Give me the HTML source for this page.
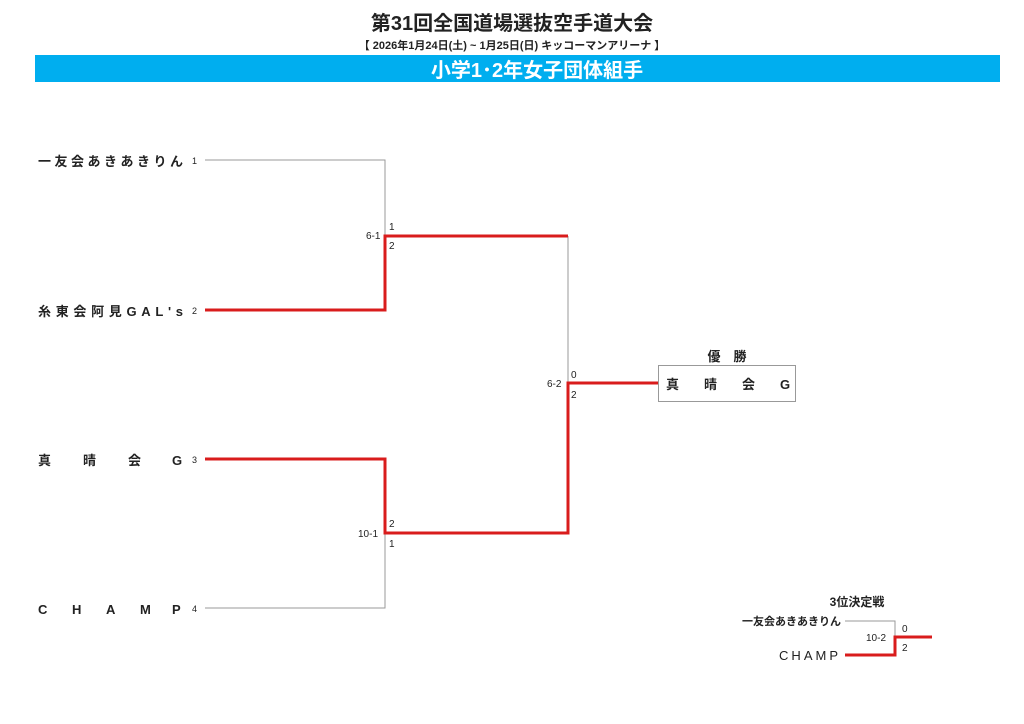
<!DOCTYPE html>
<html><head><meta charset="utf-8"><style>
body{margin:0;width:1024px;height:724px;background:#fff;overflow:hidden}
svg{display:block}
text{font-family:"Liberation Sans","Noto Sans CJK JP",sans-serif;fill:#222}
</style></head><body>
<svg width="1024" height="724" viewBox="0 0 1024 724">
<text x="512" y="30" text-anchor="middle" font-size="20" font-weight="bold">第31回全国道場選抜空手道大会</text>
<text x="512" y="49" text-anchor="middle" font-size="11" font-weight="bold">【 2026年1月24日(土) ~ 1月25日(日)  キッコーマンアリーナ 】</text>
<rect x="35" y="55" width="965" height="27" fill="#00aeef"/>
<text x="537" y="77" text-anchor="middle" font-size="20" font-weight="bold" style="fill:#fff">小学1･2年女子団体組手</text>

<g font-size="13" font-weight="bold" style="fill:#333">
<text x="38" y="166" textLength="145" lengthAdjust="spacing">一友会あきあきりん</text>
<text x="38" y="316" textLength="145" lengthAdjust="spacing">糸東会阿見GAL's</text>
<text y="465"><tspan x="38">真</tspan><tspan x="83">晴</tspan><tspan x="128">会</tspan><tspan x="172">G</tspan></text>
<text y="614"><tspan x="38">C</tspan><tspan x="72">H</tspan><tspan x="106">A</tspan><tspan x="140">M</tspan><tspan x="172">P</tspan></text>
</g>
<g font-size="9"><text x="192" y="164">1</text><text x="192" y="314">2</text><text x="192" y="463">3</text><text x="192" y="612">4</text></g>

<g stroke="#999" stroke-width="1" fill="none">
<path d="M205 160H385V236"/><path d="M205 608H385V533"/><path d="M568 236V383"/>
<path d="M845 621H895V637"/>
</g>
<g stroke="#d91c1c" stroke-width="3" fill="none">
<path d="M205 310H385V236H568"/><path d="M205 459H385V533H568V383H658"/>
<path d="M845 655H895V637H932"/>
</g>
<g font-size="10">
<text x="366" y="239">6-1</text><text x="389" y="230">1</text><text x="389" y="249">2</text>
<text x="358" y="537">10-1</text><text x="389" y="527">2</text><text x="389" y="547">1</text>
<text x="547" y="387">6-2</text><text x="571" y="378">0</text><text x="571" y="398">2</text>
<text x="866" y="641">10-2</text><text x="902" y="632">0</text><text x="902" y="651">2</text>
</g>
<text x="727" y="361" text-anchor="middle" font-size="13" font-weight="bold">優　勝</text>
<rect x="658.5" y="365.5" width="137" height="36" fill="none" stroke="#999"/>
<text y="389" font-size="13" font-weight="bold"><tspan x="666">真</tspan><tspan x="704">晴</tspan><tspan x="742">会</tspan><tspan x="780">G</tspan></text>
<text x="857" y="606" text-anchor="middle" font-size="12" font-weight="bold">3位決定戦</text>
<text x="841" y="625" text-anchor="end" font-size="11" font-weight="bold">一友会あきあきりん</text>
<text x="841" y="660" text-anchor="end" font-size="13" letter-spacing="3">CHAMP</text>
</svg>
</body></html>
